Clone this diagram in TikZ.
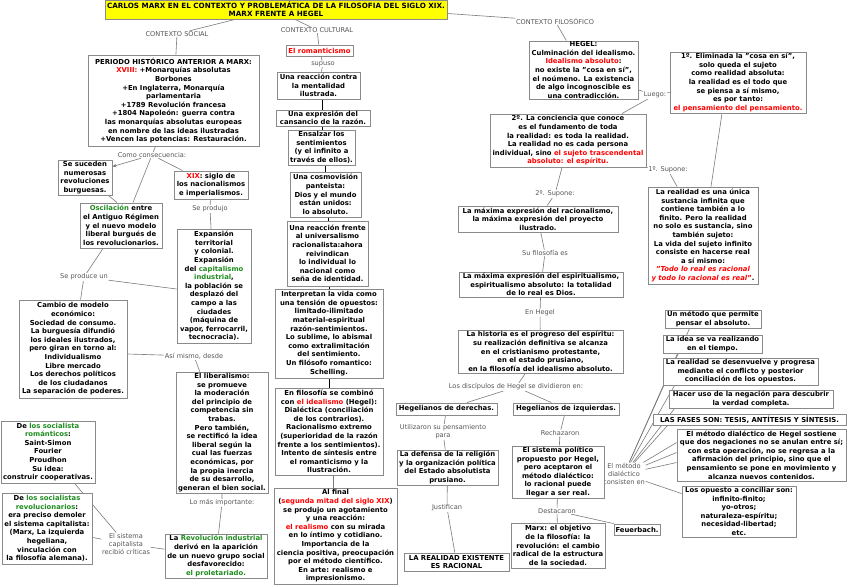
\documentclass[tikz,border=0pt]{standalone}
\usepackage{fontspec}
\setmainfont{DejaVu Sans}
\usetikzlibrary{arrows.meta}
\definecolor{grn}{HTML}{1E8C1E}
\definecolor{rd}{HTML}{FF0000}
\definecolor{bord}{HTML}{8A8A8A}
\definecolor{lbltxt}{HTML}{555555}
\definecolor{conn}{HTML}{7A7A7A}
\definecolor{ttl}{HTML}{FFFF00}
\newcommand\rtxt[1]{\textcolor{rd}{#1}}
\newcommand\gtxt[1]{\textcolor{grn}{#1}}
\pgfdeclarelayer{bg}
\pgfsetlayers{bg,main}
\tikzset{
 box/.style={draw=bord, line width=0.9pt, fill=white, align=center, inner sep=0.5pt, font=\bfseries\fontsize{6.85}{8.6}\selectfont, text=black},
 lbl/.style={fill=white, inner sep=0.5pt, align=center, font=\fontsize{6.6}{8.2}\selectfont, text=lbltxt},
 cn/.style={draw=conn, line width=0.6pt},
 dbl/.style={draw=black, double=white, double distance=0.9pt, line width=0.45pt},
}
\newcommand\bx[6]{\node[box, minimum width=#4pt-#2pt, minimum height=#5pt-#3pt] (#1) at ({(#2+#4)/2},{(#3+#5)/2}) {#6};}
\newcommand\lb[4]{\node[lbl] (#1) at (#2,#3) {#4};}
\begin{document}
\begin{tikzpicture}[x=1pt,y=-1pt]
\useasboundingbox (0,0) rectangle (848,586);
% title
\node[box, fill=ttl, minimum width=342pt, minimum height=19pt, font=\bfseries\fontsize{7.2}{8.4}\selectfont] (title) at (276,9.5) {CARLOS MARX EN EL CONTEXTO Y PROBLEMÁTICA DE LA FILOSOFIA DEL SIGLO XIX.\\MARX FRENTE A HEGEL};
% labels
\lb{csoc}{177}{34}{CONTEXTO SOCIAL}
\lb{ccult}{317}{30}{CONTEXTO CULTURAL}
\lb{cfil}{555}{21}{CONTEXTO FILOSÓFICO}
\lb{comoc}{152}{155}{Como consecuencia:}
\lb{seprodujo}{210}{209}{Se produjo}
\lb{seproduce}{84}{277}{Se produce un}
\lb{asimismo}{194}{356}{Así mismo, desde}
\lb{masimp}{222}{503}{Lo más importante:}
\lb{sistcap}{126}{544}{El sistema\\capitalista\\recibió críticas}
\lb{supuso}{323}{64}{supuso}
\lb{luego}{655}{95}{Luego:}
\lb{supone1}{668}{170}{1º. Supone:}
\lb{supone2}{555}{194}{2º. Supone:}
\lb{sufilo}{545}{253}{Su filosofía es}
\lb{enhegel}{540}{313}{En Hegel}
\lb{discip}{516}{387}{Los discípulos de Hegel se dividieron en:}
\lb{utiliz}{443}{432}{Utilizaron su pensamiento\\para}
\lb{justif}{447}{508}{Justifican}
\lb{rechaz}{560}{433}{Rechazaron}
\lb{destac}{557}{511}{Destacaron}
\lb{metodo}{624}{474}{El método\\dialéctico\\consisten en}
% left column
\bx{periodo}{88}{55}{259}{146}{PERIODO HISTÓRICO ANTERIOR A MARX:\\\rtxt{XVIII:} +Monarquías absolutas\\Borbones\\+En Inglaterra, Monarquía\\parlamentaria\\+1789 Revolución francesa\\+1804 Napoleón: guerra contra\\las monarquías absolutas europeas\\en nombre de las ideas ilustradas\\+Vencen las potencias: Restauración.}
\bx{sesuc}{58}{160}{112}{195}{Se suceden\\numerosas\\revoluciones\\burguesas.}
\bx{xix}{174}{171}{248}{199}{\rtxt{XIX}: siglo de\\los nacionalismos\\e imperialismos.}
\bx{oscil}{80}{203}{162}{248}{\gtxt{Oscilación} entre\\el Antiguo Régimen\\y el nuevo modelo\\liberal burgués de\\los revolucionarios.}
\bx{expans}{177}{229}{251}{343}{Expansión\\territorial\\y colonial.\\Expansión\\del \gtxt{capitalismo}\\\gtxt{industrial},\\la población se\\desplazó del\\campo a las\\ciudades\\(máquina de\\vapor, ferrocarril,\\tecnocracia).}
\bx{cambio}{19}{300}{127}{398}{Cambio de modelo\\económico:\\Sociedad de consumo.\\La burguesía difundió\\los ideales ilustrados,\\pero giran en torno al:\\Individualismo\\Libre mercado\\Los derechos políticos\\de los ciudadanos\\La separación de poderes.}
\bx{liberal}{176}{372}{268}{493}{El liberalismo:\\se promueve\\la moderación\\del principio de\\competencia sin\\trabas.\\Pero también,\\se rectificó la idea\\liberal según la\\cual las fuerzas\\económicas, por\\la propia inercia\\de su desarrollo,\\generan el bien social.}
\bx{revol}{165}{534}{267}{578}{La \gtxt{Revolución industrial}\\derivó en la aparición\\de un nuevo grupo social\\desfavorecido:\\\gtxt{el proletariado.}}
\bx{socrom}{1}{421}{95}{483}{De \gtxt{los socialista}\\\gtxt{románticos}:\\Saint-Simon\\Fourier\\Proudhon\\Su idea:\\construir cooperativas.}
\bx{socrev}{2}{493}{92}{564}{De \gtxt{los socialistas}\\\gtxt{revolucionarios}:\\era preciso demoler\\el sistema capitalista:\\(Marx, La izquierda\\hegeliana,\\vinculación con\\la filosofía alemana).}
% middle column
\bx{romant}{286}{45}{353}{56}{\rtxt{El romanticismo}}
\bx{reaccion}{277}{72}{360}{99}{Una reacción contra\\la mentalidad\\ilustrada.}
\bx{expresion}{276}{110}{370}{126}{Una expresión del\\cansancio de la razón.}
\bx{ensalzar}{288}{130}{355}{165}{Ensalzar los\\sentimientos\\(y el infinito a\\través de ellos).}
\bx{cosmo}{290}{172}{361}{217}{Una cosmovisión\\panteista:\\Dios y el mundo\\están unidos:\\lo absoluto.}
\bx{univ}{287}{221}{368}{286}{Una reacción frente\\al universalismo\\racionalista:ahora\\reivindican\\lo individual lo\\nacional como\\seña de identidad.}
\bx{interp}{275}{289}{383}{378}{Interpretan la vida como\\una tensión de opuestos:\\limitado-ilimitado\\material-espiritual\\razón-sentimientos.\\Lo sublime, lo abismal\\como extralimitación\\del sentimiento.\\Un filósofo romantico:\\Schelling.}
\bx{enfilo}{275}{388}{383}{475}{En filosofía se combinó\\con \rtxt{el idealismo} (Hegel):\\Dialéctica (conciliación\\de los contrarios).\\Racionalismo extremo\\(superioridad de la razón\\frente a los sentimientos).\\Intento de síntesis entre\\el romanticismo y la\\Ilustración.}
\bx{alfinal}{274}{488}{397}{584}{Al final\\(\rtxt{segunda mitad del siglo XIX})\\se produjo un agotamiento\\y una reacción:\\\rtxt{el realismo} con su mirada\\en lo  íntimo y cotidiano.\\Importancia de la\\ciencia positiva, preocupación\\por el método científico.\\En arte: realismo e\\impresionismo.}
% right part
\bx{hegel}{529}{41}{638}{99}{HEGEL:\\Culminación del idealismo.\\\rtxt{Idealismo absoluto}:\\no existe la "cosa en sí",\\el noúmeno. La existencia\\de algo incognoscible es\\una contradicción.}
\bx{uno}{670}{52}{806}{113}{1º. Eliminada la "cosa en sí",\\solo queda el sujeto\\como realidad absoluta:\\la realidad es el todo que\\se piensa a sí mismo,\\es por tanto:\\\rtxt{el pensamiento del pensamiento.}}
\bx{dos}{490}{114}{646}{167}{2º. La conciencia que conoce\\es el fundamento de toda\\la realidad: es toda la realidad.\\La realidad no es cada persona\\individual, sino \rtxt{el sujeto trascendental}\\\rtxt{absoluto: el espíritu.}}
\bx{realidad}{648}{187}{758}{284}{La realidad es una única\\sustancia infinita que\\contiene también a lo\\finito. Pero la realidad\\no solo es sustancia, sino\\también sujeto:\\La vida del sujeto infinito\\consiste en hacerse real\\a sí mismo:\\\rtxt{\itshape "Todo  lo real es racional}\\\rtxt{\itshape y todo lo racional es real}\rtxt{"}.}
\bx{racional}{458}{206}{618}{232}{La máxima expresión del racionalismo,\\la máxima expresión del proyecto\\ilustrado.}
\bx{espirit}{459}{272}{623}{297}{La máxima expresión del espiritualismo,\\espiritualismo absoluto: la totalidad\\de lo real es Dios.}
\bx{historia}{458}{330}{623}{373}{La historia es el progreso del espíritu:\\su realización definitiva se alcanza\\en el cristianismo protestante,\\en el estado prusiano,\\en la filosofía del idealismo absoluto.}
\bx{derechas}{396}{403}{497}{415}{Hegelianos de derechas.}
\bx{izquierdas}{513}{403}{619}{415}{Hegelianos de izquierdas.}
\bx{defensa}{397}{450}{498}{485}{La defensa de la religión\\y la organización política\\del Estado absolutista\\prusiano.}
\bx{lareal}{404}{553}{509}{571}{LA REALIDAD EXISTENTE\\ES RACIONAL}
\bx{sistema}{512}{446}{604}{498}{El sistema político\\propuesto por Hegel,\\pero aceptaron el\\método dialéctico:\\lo racional puede\\llegar a ser real.}
\bx{marx}{511}{523}{605}{568}{Marx: el objetivo\\de la filosofía: la\\revolución: el cambio\\radical de la estructura\\de la sociedad.}
\bx{feuer}{614}{524}{660}{535}{Feuerbach.}
\bx{ma}{665}{310}{761}{328}{Un método que permite\\pensar el absoluto.}
\bx{mb}{663}{335}{762}{353}{La idea se va realizando\\en el tiempo.}
\bx{mc}{663}{358}{818}{385}{La realidad se desenvuelve y progresa\\mediante el conflicto y posterior\\conciliación de los opuestos.}
\bx{md}{669}{390}{833}{408}{Hacer uso de la negación para descubrir\\la verdad completa.}
\bx{me}{653}{414}{846}{425}{LAS FASES SON: TESIS, ANTÍTESIS Y SÍNTESIS.}
\bx{mf}{677}{429}{846}{481}{El método dialéctico de Hegel sostiene\\que dos negaciones no se anulan entre sí;\\con esta operación, no se regresa a la\\afirmación del principio, sino que el\\pensamiento se pone en movimiento y\\alcanza nuevos contenidos.}
\bx{mg}{682}{486}{796}{537}{Los opuesto a conciliar son:\\infinito-finito;\\yo-otros;\\naturaleza-espíritu;\\necesidad-libertad;\\etc.}
% connectors
\begin{pgfonlayer}{bg}
\draw[cn] ([xshift=-41pt]title.south) -- (csoc);
\draw[cn] ([xshift=19pt]title.south) -- (ccult);
\draw[cn] ([yshift=-4pt]title.east) -- (cfil);
\draw[cn] (csoc) -- (periodo);
\draw[cn] (ccult) -- (romant);
\draw[cn] (cfil) -- (hegel);
\draw[cn] ([xshift=-18pt]periodo.south) -- (comoc);
\draw[cn,-{Stealth[length=4pt,width=3.5pt]}] (comoc) -- ([yshift=-7pt]sesuc.north east);
\draw[cn] (comoc) -- (xix);
\draw[cn] (comoc) -- ([xshift=12pt]oscil.north);
\draw[cn] ([xshift=-4pt]sesuc.south east) -- ([xshift=-4pt]oscil.north);
\draw[cn] (xix) -- (seprodujo) -- (expans);
\draw[cn] ([xshift=-18pt]oscil.south) -- (seproduce);
\draw[cn] (seproduce) -- ([yshift=-3pt]expans.west);
\draw[cn] (seproduce) -- (cambio);
\draw[cn] ([yshift=-5pt]cambio.east) -- (asimismo);
\draw[cn] (asimismo) -- (liberal);
\draw[cn] (liberal) -- (masimp) -- (revol);
\draw[cn] (sistcap) -- (revol);
\draw[cn] (sistcap) -- (socrom);
\draw[cn] (sistcap) -- (socrev);
\draw[cn] (romant) -- (supuso) -- (reaccion);
\draw[dbl] ([xshift=4.5pt]reaccion.south) -- (expresion.north);
\draw[dbl] (expresion.south) -- ([xshift=1.5pt]ensalzar.north);
\draw[dbl] ([xshift=4.5pt]ensalzar.south) -- ([xshift=0.5pt]cosmo.north);
\draw[dbl] ([xshift=3.5pt]cosmo.south) -- ([xshift=1.5pt]univ.north);
\draw[dbl] ([xshift=2.5pt]univ.south) -- ([xshift=1pt]interp.north);
\draw[dbl] ([xshift=1pt]interp.south) -- ([xshift=1pt]enfilo.north);
\draw[cn] ([xshift=4pt]enfilo.south) -- ([xshift=-2.5pt]alfinal.north);
\draw[cn] ([yshift=-20pt]hegel.east) -- (luego);
\draw[cn] (luego) -- ([yshift=-10pt]uno.west);
\draw[cn] (luego) -- ([xshift=54pt]dos.north);
\draw[cn] (dos.south east) -- (supone1);
\draw[cn] (supone1) -- ([xshift=-26pt]realidad.north);
\draw[cn] ([xshift=-16pt]uno.south) -- ([xshift=8pt]realidad.north);
\draw[cn] ([xshift=-6pt]dos.south) -- (supone2) -- (racional);
\draw[cn] (racional) -- (sufilo) -- (espirit) -- (enhegel) -- (historia) -- (discip);
\draw[cn] (discip) -- (derechas);
\draw[cn] (discip) -- (izquierdas);
\draw[cn] (derechas) -- (utiliz) -- (defensa) -- (justif) -- (lareal);
\draw[cn] (izquierdas) -- (rechaz) -- (sistema) -- (destac) -- (marx);
\draw[cn] (destac) -- (feuer.north west);
\draw[cn] (sistema) -- (metodo);
\draw[cn] (metodo) -- ([xshift=25pt]ma.south west);
\draw[cn] (metodo) -- ([xshift=15pt]mb.south west);
\draw[cn] (metodo) -- ([xshift=12pt]mc.south west);
\draw[cn] (metodo) -- ([xshift=6pt]md.south west);
\draw[cn] (metodo) -- ([xshift=15pt]me.south west);
\draw[cn] (metodo) -- ([yshift=-14pt]mf.north west);
\draw[cn] (metodo) -- ([yshift=-24pt]mf.north west);
\draw[cn] (metodo) -- ([yshift=-34pt]mf.north west);
\draw[cn] (metodo) -- ([yshift=-8pt]mg.north west);
\end{pgfonlayer}
\end{tikzpicture}
\end{document}
